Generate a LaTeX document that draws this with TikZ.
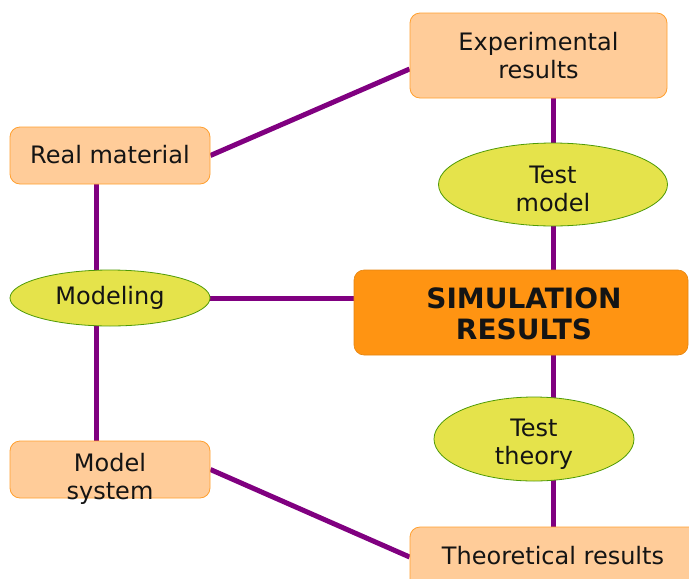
\documentclass[tikz,border=0pt]{standalone}
\usepackage{fontspec}
\setmainfont{DejaVu Sans}
\usetikzlibrary{shapes.geometric,backgrounds}
\definecolor{boxfill}{HTML}{FFCC99}
\definecolor{boxline}{HTML}{FFA030}
\definecolor{ellfill}{HTML}{E5E34B}
\definecolor{ellline}{HTML}{4E9A06}
\definecolor{simfill}{HTML}{FF9412}
\definecolor{conn}{HTML}{800080}
\definecolor{ink}{HTML}{141414}
\tikzset{
  softbox/.style={rectangle, rounded corners=10pt, fill=boxfill, draw=boxline, line width=0.8pt, inner sep=0pt},
  ellnode/.style={ellipse, fill=ellfill, draw=ellline, line width=0.8pt, inner sep=0pt},
  simbox/.style={rectangle, rounded corners=10pt, fill=simfill, draw=simfill!90!black, line width=0.6pt, inner sep=0pt},
  txt/.style={text=ink, align=center, font=\fontsize{24}{28}\selectfont, inner sep=0pt},
  bigtxt/.style={text=ink, align=center, font=\fontsize{28}{31}\selectfont\bfseries, inner sep=0pt},
  link/.style={draw=conn, line width=5pt}
}
\begin{document}
\begin{tikzpicture}[x=1pt,y=-1pt]
\useasboundingbox (0,0) rectangle (689,579);
\clip (0,0) rectangle (689,579);
% boxes
\node[softbox, minimum width=257pt, minimum height=85pt] (exp) at (538.5,55.5) {};
\node[txt] (exptext) at (538.5,55.5) {Experimental\\results};
\node[softbox, minimum width=200pt, minimum height=57pt] (rm) at (110,155.5) {};
\node[txt] (rmtext) at (110,155) {Real material};
\node[ellnode, minimum width=200pt, minimum height=56pt] (mod) at (110,298) {};
\node[txt] (modtext) at (110,298) {Modeling};
\node[softbox, minimum width=200pt, minimum height=57pt] (ms) at (110,469.5) {};
\node[txt] (mstext) at (110,479) {Model\\system};
\node[ellnode, minimum width=229pt, minimum height=83pt] (tm) at (553,184.5) {};
\node[txt] (tmtext) at (553,189) {Test\\model};
\node[simbox, minimum width=334pt, minimum height=85pt] (sim) at (521,312.5) {};
\node[bigtxt] (simtext) at (524,313.5) {SIMULATION\\RESULTS};
\node[ellnode, minimum width=200pt, minimum height=84pt] (tt) at (534,439) {};
\node[txt] (tttext) at (534,444) {Test\\theory};
\node[softbox, minimum width=290pt, minimum height=73pt] (theo) at (555,563.5) {};
\node[txt] (theotext) at (553,556) {Theoretical results};
% connectors
\begin{scope}[on background layer]
\draw[link] (rm.east) -- ([yshift=-13.5pt]exp.west);
\draw[link] ([xshift=-14pt]rm.south) -- ([xshift=-14pt]mod.center);
\draw[link] ([xshift=-14pt]mod.center) -- ([xshift=-14pt]ms.north);
\draw[link] (mod.east) -- (mod.east -| sim.west);
\draw[link] (exp.south -| tm.north) -- (tm.center);
\draw[link] (tm.center) -- (tm.center |- sim.north);
\draw[link] (tm.center |- sim.south) -- (tm.center |- tt.center);
\draw[link] (tm.center |- tt.center) -- (tm.center |- theo.north);
\draw[link] (ms.east) -- ([yshift=6.5pt]theo.west);
\end{scope}
\end{tikzpicture}
\end{document}
